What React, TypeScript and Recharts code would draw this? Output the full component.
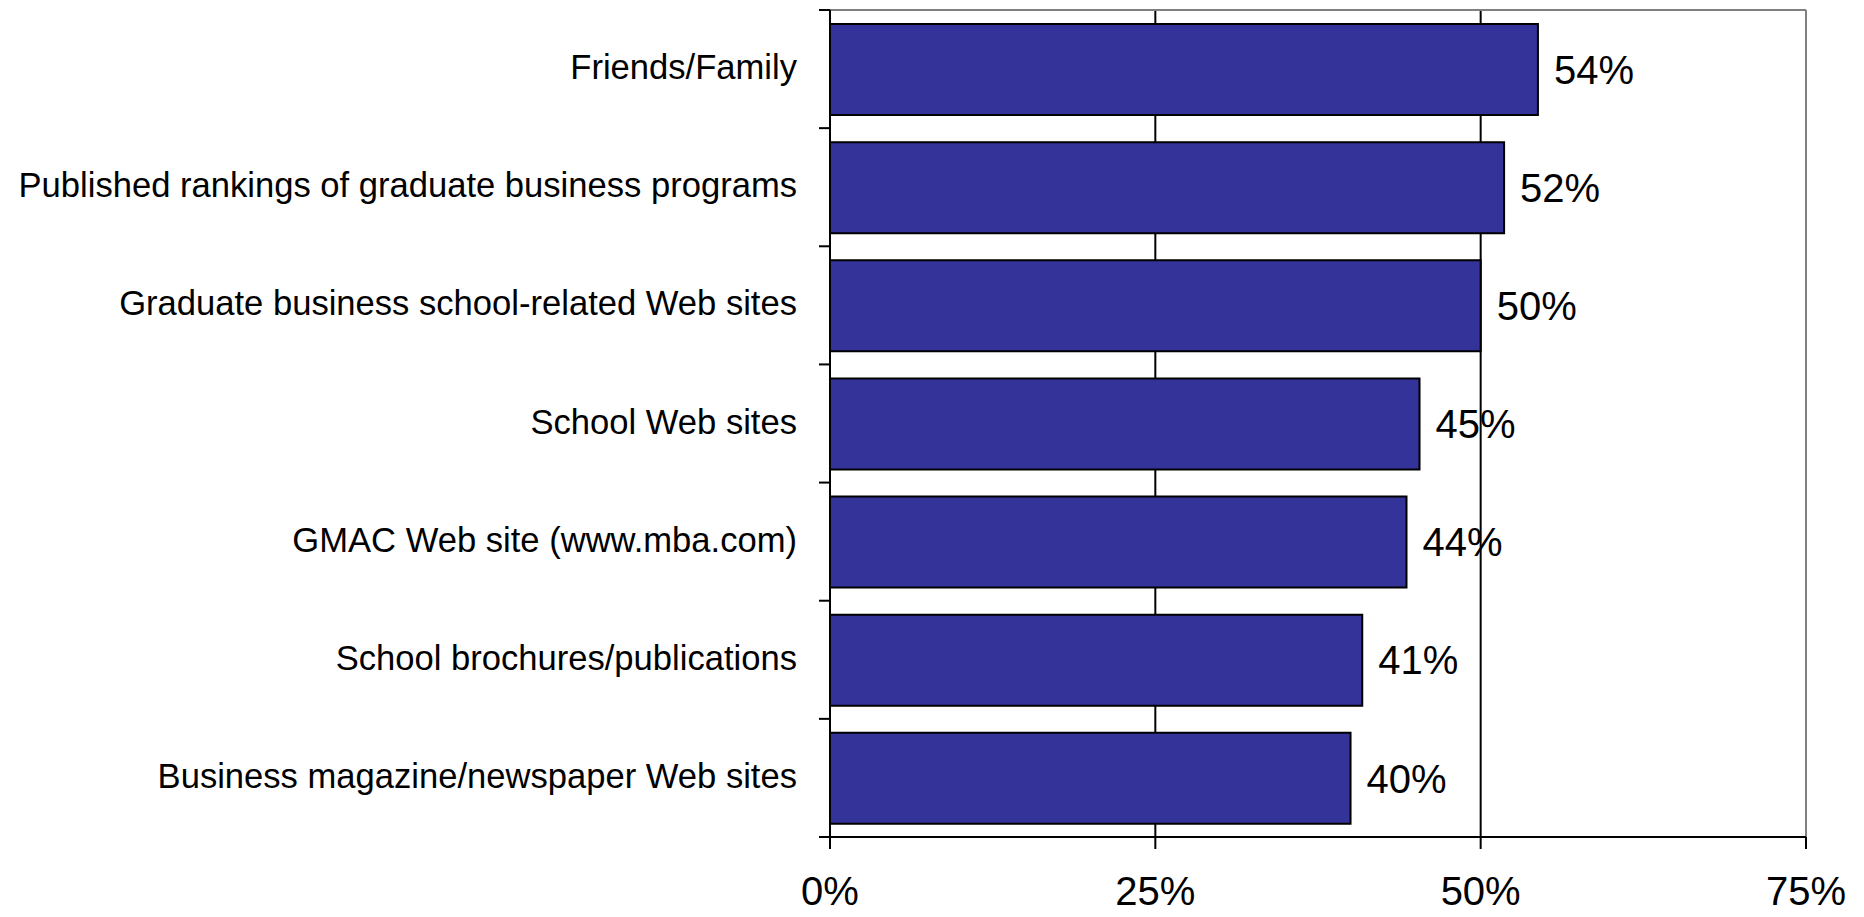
import { BarChart, Bar, XAxis, YAxis, CartesianGrid, ReferenceLine, LabelList } from "recharts";

// Sources used (share of respondents), top to bottom as drawn.
const categories = [
  "Friends/Family",
  "Published rankings of graduate business programs",
  "Graduate business school-related Web sites",
  "School Web sites",
  "GMAC Web site (www.mba.com)",
  "School brochures/publications",
  "Business magazine/newspaper Web sites",
];
const shares = [54.4, 51.8, 50.0, 45.3, 44.3, 40.9, 40.0];
const xTicks = [0, 25, 50, 75];

const data = categories.map((name, i) => ({ name, value: shares[i] }));

const FONT = '"Liberation Sans", Arial, sans-serif';
const W = 1864;
const H = 917;
const PLOT_H = 827;

function CategoryTick(props: { x?: number; y?: number; index?: number; payload?: { value: string; offset?: number } }) {
  const { x = 0, y = 0, index = 0, payload } = props;
  const half = payload?.offset ?? PLOT_H / categories.length / 2;
  const last = index === categories.length - 1;
  return (
    <g>
      <line x1={x} x2={x - 11} y1={y - half} y2={y - half} stroke="#000" strokeWidth={2} />
      {last && <line x1={x} x2={x - 11} y1={y + half} y2={y + half} stroke="#000" strokeWidth={2} />}
      <text x={x - 33} y={y} dy={10} textAnchor="end" style={{ fontSize: 34.6, fontFamily: FONT, fill: "#000" }}>
        {payload?.value}
      </text>
    </g>
  );
}

export default function App() {
  return (
    <div style={{ position: "fixed", left: 0, top: 0, width: W, height: H, background: "#fff" }}>
      <BarChart
        width={W}
        height={H}
        data={data}
        layout="vertical"
        margin={{ top: 10, right: 58, bottom: 0, left: 0 }}
      >
        <CartesianGrid horizontal={false} stroke="#000" strokeWidth={2} />
        <CartesianGrid
          vertical={false}
          stroke="#808080"
          strokeWidth={2}
          horizontalCoordinatesGenerator={({ offset }: { offset: { top: number } }) => [offset.top]}
        />
        <XAxis
          type="number"
          domain={[0, 75]}
          ticks={xTicks}
          tickFormatter={(v: number) => `${v}%`}
          axisLine={{ stroke: "#000", strokeWidth: 2 }}
          tickLine={{ stroke: "#000", strokeWidth: 2 }}
          tickSize={12}
          tickMargin={28}
          height={80}
          tick={{ fontSize: 40, fontFamily: FONT, fill: "#000" }}
        />
        <YAxis
          type="category"
          dataKey="name"
          width={830}
          axisLine={{ stroke: "#000", strokeWidth: 2 }}
          tickLine={false}
          tickSize={0}
          tickMargin={0}
          interval={0}
          tick={CategoryTick as never}
        />
        <ReferenceLine x={75} stroke="#808080" strokeWidth={2} />
        <Bar dataKey="value" fill="#333399" stroke="#000" strokeWidth={2} barSize={91} isAnimationActive={false}>
          <LabelList
            dataKey="value"
            position="right"
            offset={16}
            formatter={(v: number) => `${Math.round(v)}%`}
            style={{ fontSize: 40, fontFamily: FONT, fill: "#000" }}
          />
        </Bar>
      </BarChart>
    </div>
  );
}
